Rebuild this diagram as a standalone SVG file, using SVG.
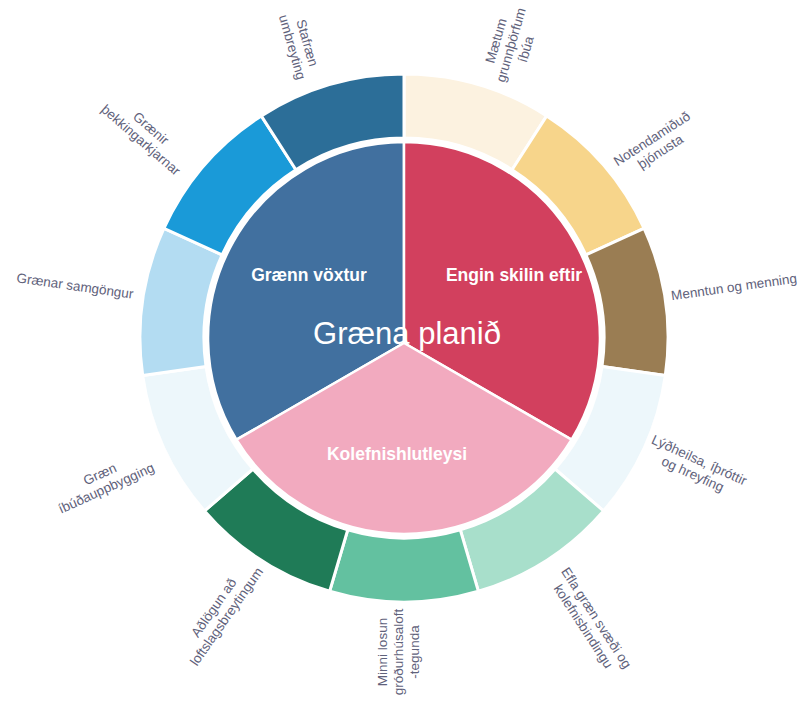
<svg xmlns="http://www.w3.org/2000/svg" width="800" height="703" viewBox="0 0 800 703">
<style>
.seg{stroke:#ffffff;stroke-width:3;stroke-linejoin:miter}
.wedge{stroke:#ffffff;stroke-width:2.5;stroke-linejoin:round}
.lbl{font-family:"Liberation Sans",Arial,sans-serif;font-size:13.5px;fill:#5f627b;text-anchor:middle}
.in{font-family:"Liberation Sans",Arial,sans-serif;font-weight:bold;font-size:17.5px;fill:#ffffff;text-anchor:middle}
.title{font-family:"Liberation Sans",Arial,sans-serif;font-size:31px;fill:#ffffff;text-anchor:middle}
</style>
<rect width="800" height="703" fill="#ffffff"/>

<g id="ring">
  <g id="seg-maetum">
    <path class="seg" fill="#fcf2e0" d="M404,74 A264,264 0 0 1 546.7,115.9 L512.1,169.7 A200,200 0 0 0 404,138 Z"/>
    <text class="lbl" transform="translate(511,45) rotate(-74)"><tspan x="0" y="-11">Mætum</tspan><tspan x="0" y="4.5">grunnþörfum</tspan><tspan x="0" y="20">íbúa</tspan></text>
  </g>
  <g id="seg-notendamidud">
    <path class="seg" fill="#f7d58b" d="M546.7,115.9 A264,264 0 0 1 644.1,228.3 L585.9,254.9 A200,200 0 0 0 512.1,169.7 Z"/>
    <text class="lbl" transform="translate(656,145) rotate(-33)"><tspan x="0" y="-3">Notendamiðuð</tspan><tspan x="0" y="12.5">þjónusta</tspan></text>
  </g>
  <g id="seg-menntun">
    <path class="seg" fill="#9a7d53" d="M644.1,228.3 A264,264 0 0 1 665.3,375.6 L602,366.5 A200,200 0 0 0 585.9,254.9 Z"/>
    <text class="lbl" transform="translate(734,287) rotate(-8)"><tspan x="0" y="4.5">Menntun og menning</tspan></text>
  </g>
  <g id="seg-lydheilsa">
    <path class="seg" fill="#edf7fb" d="M665.3,375.6 A264,264 0 0 1 603.5,510.9 L555.1,469 A200,200 0 0 0 602,366.5 Z"/>
    <text class="lbl" transform="translate(696,467) rotate(24.5)"><tspan x="0" y="-3">Lýðheilsa, íþróttir</tspan><tspan x="0" y="12.5">og hreyfing</tspan></text>
  </g>
  <g id="seg-efla">
    <path class="seg" fill="#a8dfcb" d="M603.5,510.9 A264,264 0 0 1 478.4,591.3 L460.3,529.9 A200,200 0 0 0 555.1,469 Z"/>
    <text class="lbl" transform="translate(590,622) rotate(57)"><tspan x="0" y="-3">Efla græn svæði og</tspan><tspan x="0" y="12.5">kolefnisbindingu</tspan></text>
  </g>
  <g id="seg-minni-losun">
    <path class="seg" fill="#63c1a0" d="M478.4,591.3 A264,264 0 0 1 329.6,591.3 L347.7,529.9 A200,200 0 0 0 460.3,529.9 Z"/>
    <text class="lbl" transform="translate(398,652) rotate(-90)"><tspan x="0" y="-11.5">Minni losun</tspan><tspan x="0" y="4.5">gróðurhúsaloft</tspan><tspan x="0" y="20.5">-tegunda</tspan></text>
  </g>
  <g id="seg-adlogun">
    <path class="seg" fill="#1f7b57" d="M329.6,591.3 A264,264 0 0 1 204.5,510.9 L252.9,469 A200,200 0 0 0 347.7,529.9 Z"/>
    <text class="lbl" transform="translate(220,612) rotate(-55)"><tspan x="0" y="-3">Aðlögun að</tspan><tspan x="0" y="12.5">loftslagsbreytingum</tspan></text>
  </g>
  <g id="seg-graen-ibud">
    <path class="seg" fill="#edf7fb" d="M204.5,510.9 A264,264 0 0 1 142.7,375.6 L206,366.5 A200,200 0 0 0 252.9,469 Z"/>
    <text class="lbl" transform="translate(103,481) rotate(-24.5)"><tspan x="0" y="-3">Græn</tspan><tspan x="0" y="12.5">íbúðauppbygging</tspan></text>
  </g>
  <g id="seg-graenar-samgongur">
    <path class="seg" fill="#b3dcf2" d="M142.7,375.6 A264,264 0 0 1 163.9,228.3 L222.1,254.9 A200,200 0 0 0 206,366.5 Z"/>
    <text class="lbl" transform="translate(75,286) rotate(8)"><tspan x="0" y="4.5">Grænar samgöngur</tspan></text>
  </g>
  <g id="seg-graenir-kjarnar">
    <path class="seg" fill="#1a9ad8" d="M163.9,228.3 A264,264 0 0 1 261.3,115.9 L295.9,169.7 A200,200 0 0 0 222.1,254.9 Z"/>
    <text class="lbl" transform="translate(146,134) rotate(41)"><tspan x="0" y="-3">Grænir</tspan><tspan x="0" y="12.5">þekkingarkjarnar</tspan></text>
  </g>
  <g id="seg-stafraen">
    <path class="seg" fill="#2c6e98" d="M261.3,115.9 A264,264 0 0 1 404,74 L404,138 A200,200 0 0 0 295.9,169.7 Z"/>
    <text class="lbl" transform="translate(300,45) rotate(74)"><tspan x="0" y="-3">Stafræn</tspan><tspan x="0" y="12.5">umbreyting</tspan></text>
  </g>
</g>

<g id="pie">
  <g id="graenn-voxtur">
    <path class="wedge" fill="#41709f" d="M404,343 L236.5,439.7 A196,196 0 0 1 404,142 Z"/>
    <text class="in" x="309" y="281">Grænn vöxtur</text>
  </g>
  <g id="engin-skilin-eftir">
    <path class="wedge" fill="#d2405e" d="M404,343 L404,142 A196,196 0 0 1 571.5,439.7 Z"/>
    <text class="in" x="514" y="281">Engin skilin eftir</text>
  </g>
  <g id="kolefnishlutleysi">
    <path class="wedge" fill="#f2aabf" d="M404,343 L571.5,439.7 A196,196 0 0 1 236.5,439.7 Z"/>
    <text class="in" x="397" y="460">Kolefnishlutleysi</text>
  </g>
  <g id="graena-planid">
    <text class="title" x="407" y="344">Græna planið</text>
  </g>
</g>
</svg>
